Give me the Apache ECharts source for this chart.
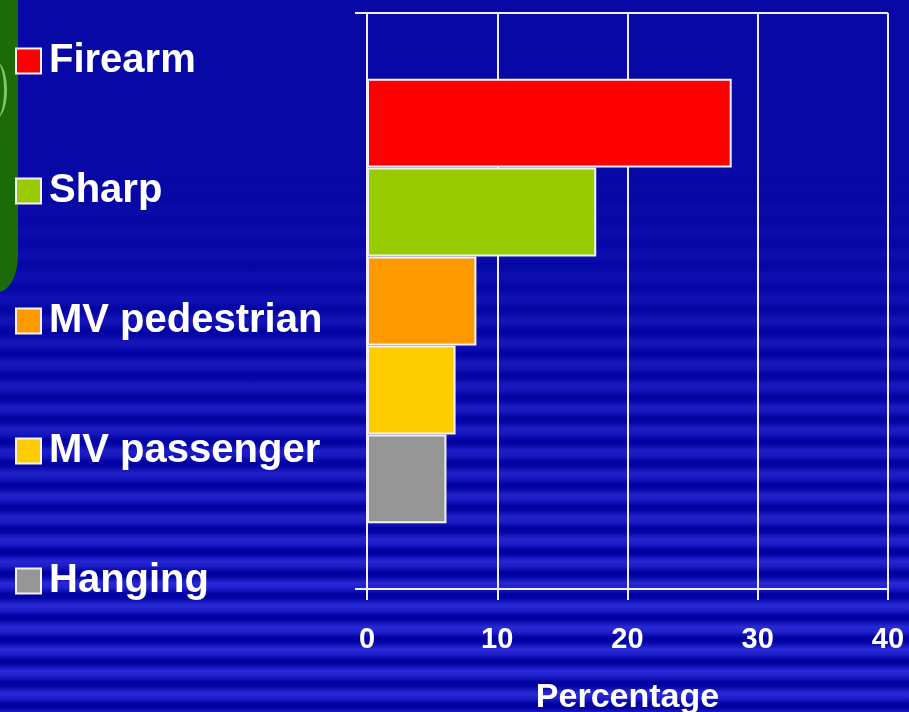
<!DOCTYPE html>
<html>
<head>
<meta charset="utf-8">
<script src="https://cdn.jsdelivr.net/npm/echarts@6/dist/echarts.min.js"></script>
<style>
  html, body { margin: 0; padding: 0; width: 909px; height: 712px; overflow: hidden; }
  #wrap { position: relative; width: 909px; height: 712px; background: #0808a6; overflow: hidden; }
  #stripes {
    position: absolute; left: 0; top: 0; width: 909px; height: 712px;
    background: repeating-linear-gradient(to bottom, #0000a0 0px, #0303a4 4px, #2a2ad6 11px, #2020cc 16px, #0000a0 22px);
    -webkit-mask-image: linear-gradient(to bottom, rgba(0,0,0,0) 25%, rgba(0,0,0,0.55) 55%, rgba(0,0,0,1) 85%);
    mask-image: linear-gradient(to bottom, rgba(0,0,0,0) 25%, rgba(0,0,0,0.55) 55%, rgba(0,0,0,1) 85%);
  }
  #green { position: absolute; left: -22px; top: -20px; width: 40px; height: 312px; background: #1c6a0a; border-radius: 0 0 22px 22px / 0 0 40px 40px; }
  #greenArc { position: absolute; left: -14px; top: 62px; width: 18px; height: 56px; border-right: 3px solid #8fd070; border-radius: 50%; opacity: 0.9; }
  #chart { position: absolute; left: 0; top: 0; width: 909px; height: 712px; }
</style>
</head>
<body>
<div id="wrap">
  <div id="stripes"></div>
  <div id="green"></div>
  <div id="greenArc"></div>
  <div id="chart"></div>
</div>
<script>
// Data
const categories = [''];
const seriesNames = ['Firearm', 'Sharp', 'MV pedestrian', 'MV passenger', 'Hanging'];
const seriesValues = [28.0, 17.6, 8.4, 6.8, 6.1];
const seriesColors = ['#ff0000', '#99cc00', '#ff9900', '#ffcc00', '#969696'];
const xTicks = [0, 10, 20, 30, 40];
const xTitle = 'Percentage';

const FONT = "'Liberation Sans', Arial, sans-serif";
const chart = echarts.init(document.getElementById('chart'), null, { renderer: 'canvas' });

const series = seriesNames.map((name, i) => ({
  name: name,
  type: 'bar',
  data: [seriesValues[i]],
  barGap: '0%',
  barCategoryGap: '22.8%',
  itemStyle: { color: seriesColors[i], borderColor: '#f2f2f6', borderWidth: 2 },
  emphasis: { disabled: true },
  animation: false
}));

chart.setOption({
  backgroundColor: 'transparent',
  animation: false,
  legend: {
    orient: 'vertical',
    left: 10,
    top: 36,
    itemGap: 90,
    itemWidth: 25,
    itemHeight: 25,
    icon: 'rect',
    data: seriesNames,
    selectedMode: false,
    textStyle: { color: '#ffffff', fontSize: 40, fontWeight: 'bold', fontFamily: FONT, lineHeight: 40, padding: [0, 0, 0, 3] }
  },
  grid: { left: 367, right: 21, top: 13, bottom: 123, containLabel: false, outerBoundsMode: 'none' },
  xAxis: {
    type: 'value',
    min: xTicks[0],
    max: xTicks[xTicks.length - 1],
    interval: xTicks[1] - xTicks[0],
    name: xTitle,
    nameLocation: 'middle',
    nameGap: 92,
    nameTextStyle: { color: '#ffffff', fontSize: 34, fontWeight: 'bold', fontFamily: FONT },
    axisLine: { show: true, lineStyle: { color: '#eeeeff', width: 2 } },
    axisTick: { show: true, length: 11, lineStyle: { color: '#eeeeff', width: 2 } },
    axisLabel: { color: '#ffffff', fontSize: 29, fontWeight: 'bold', fontFamily: FONT, margin: 36 },
    splitLine: { show: true, lineStyle: { color: '#eeeeff', width: 2 } }
  },
  yAxis: {
    type: 'category',
    data: categories,
    inverse: true,
    axisLine: { show: true, lineStyle: { color: '#eeeeff', width: 2 } },
    axisTick: { show: true, length: 12, lineStyle: { color: '#eeeeff', width: 2 } },
    axisLabel: { show: false },
    splitLine: { show: true, lineStyle: { color: '#eeeeff', width: 2 } }
  },
  series: series
});
</script>
</body>
</html>
